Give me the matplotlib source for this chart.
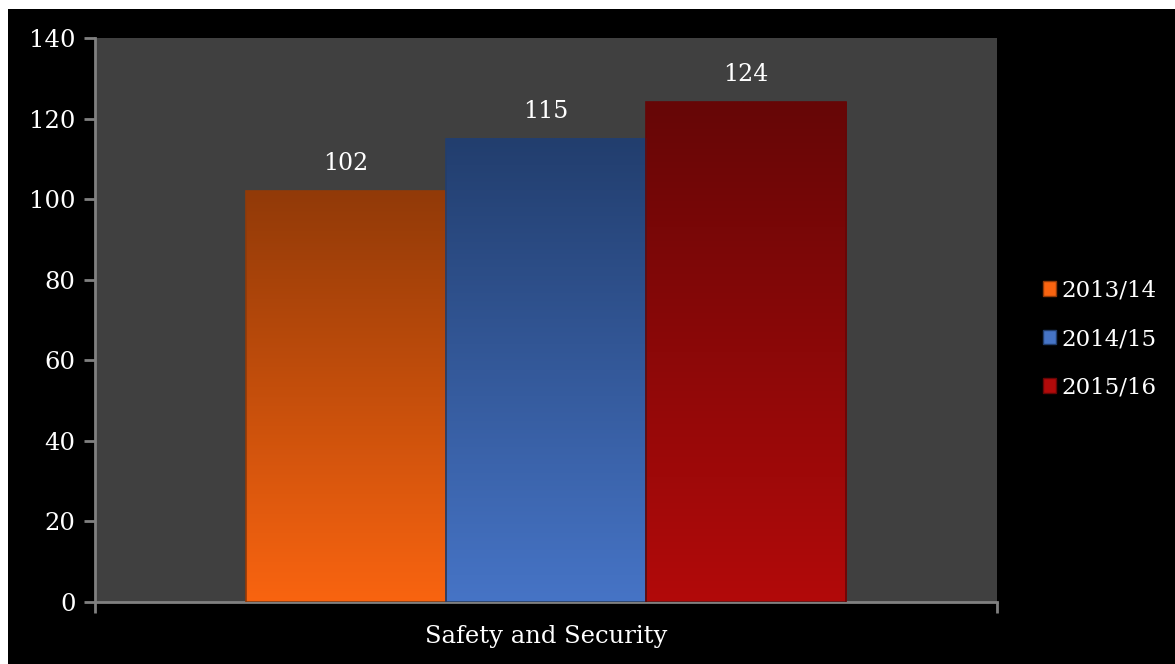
import numpy as np
import matplotlib.pyplot as plt
from matplotlib.patches import Rectangle, Patch
from matplotlib.colors import LinearSegmentedColormap

category = "Safety and Security"
years = ["2013/14", "2014/15", "2015/16"]
values = [102, 115, 124]
# (bottom colour, top colour) of each bar's gradient
bottom_colors = ["#f96410", "#4674c6", "#b20a0a"]
top_colors = ["#923a08", "#223e6e", "#660606"]
y_ticks = [0, 20, 40, 60, 80, 100, 120, 140]

plt.rcParams["font.family"] = ["DejaVu Serif"]

fig = plt.figure(figsize=(11.75, 6.64), dpi=100, facecolor="white")
# black slide background with a thin white strip on top and left
fig.patches.append(Rectangle((8 / 1175, 0), 1, 1 - 9 / 664, transform=fig.transFigure,
                             facecolor="black", edgecolor="none", zorder=-10))

ax = fig.add_axes([95 / 1175, 1 - 602 / 664, (997 - 95) / 1175, (602 - 38) / 664])
ax.set_facecolor("#404040")

width = 0.222
offsets = [-width, 0, width]
grad = np.linspace(0, 1, 256).reshape(-1, 1)
for i, (v, off) in enumerate(zip(values, offsets)):
    x0 = off - width / 2
    cmap = LinearSegmentedColormap.from_list("g%d" % i, [bottom_colors[i], top_colors[i]])
    ax.imshow(grad, cmap=cmap, origin="lower", aspect="auto",
              extent=[x0, x0 + width, 0, v], zorder=2)
    ax.bar(off, v, width=width, color="none", edgecolor=top_colors[i],
           linewidth=1.2, zorder=3)
    ax.text(off, v + 4, str(v), ha="center", va="bottom", color="white", fontsize=17)

ax.set_xlim(-0.5, 0.5)
ax.set_ylim(0, 140)

for s in ["top", "right"]:
    ax.spines[s].set_visible(False)
for s in ["left", "bottom"]:
    ax.spines[s].set_color("#808080")
    ax.spines[s].set_linewidth(2)

ax.set_yticks(y_ticks)
ax.tick_params(axis="y", colors="#808080", length=8, width=2, labelcolor="white",
               labelsize=17.5, pad=6)
ax.set_xticks([-0.5, 0.5])
ax.set_xticklabels(["", ""])
ax.tick_params(axis="x", colors="#808080", length=8, width=2)
ax.text(0, -8.5, category, ha="center", va="center", color="white", fontsize=17.5,
        transform=ax.transData)

handles = [Patch(facecolor=bottom_colors[i], edgecolor=top_colors[i]) for i in range(3)]
leg = fig.legend(handles, years, loc="center left", bbox_to_anchor=(1022 / 1175, 1 - 339 / 664),
                 frameon=False, fontsize=16.5, handlelength=0.6, handleheight=0.6,
                 handletextpad=0.2, labelspacing=1.15, labelcolor="white")

fig.savefig("out.png", dpi=100, facecolor=fig.get_facecolor())
